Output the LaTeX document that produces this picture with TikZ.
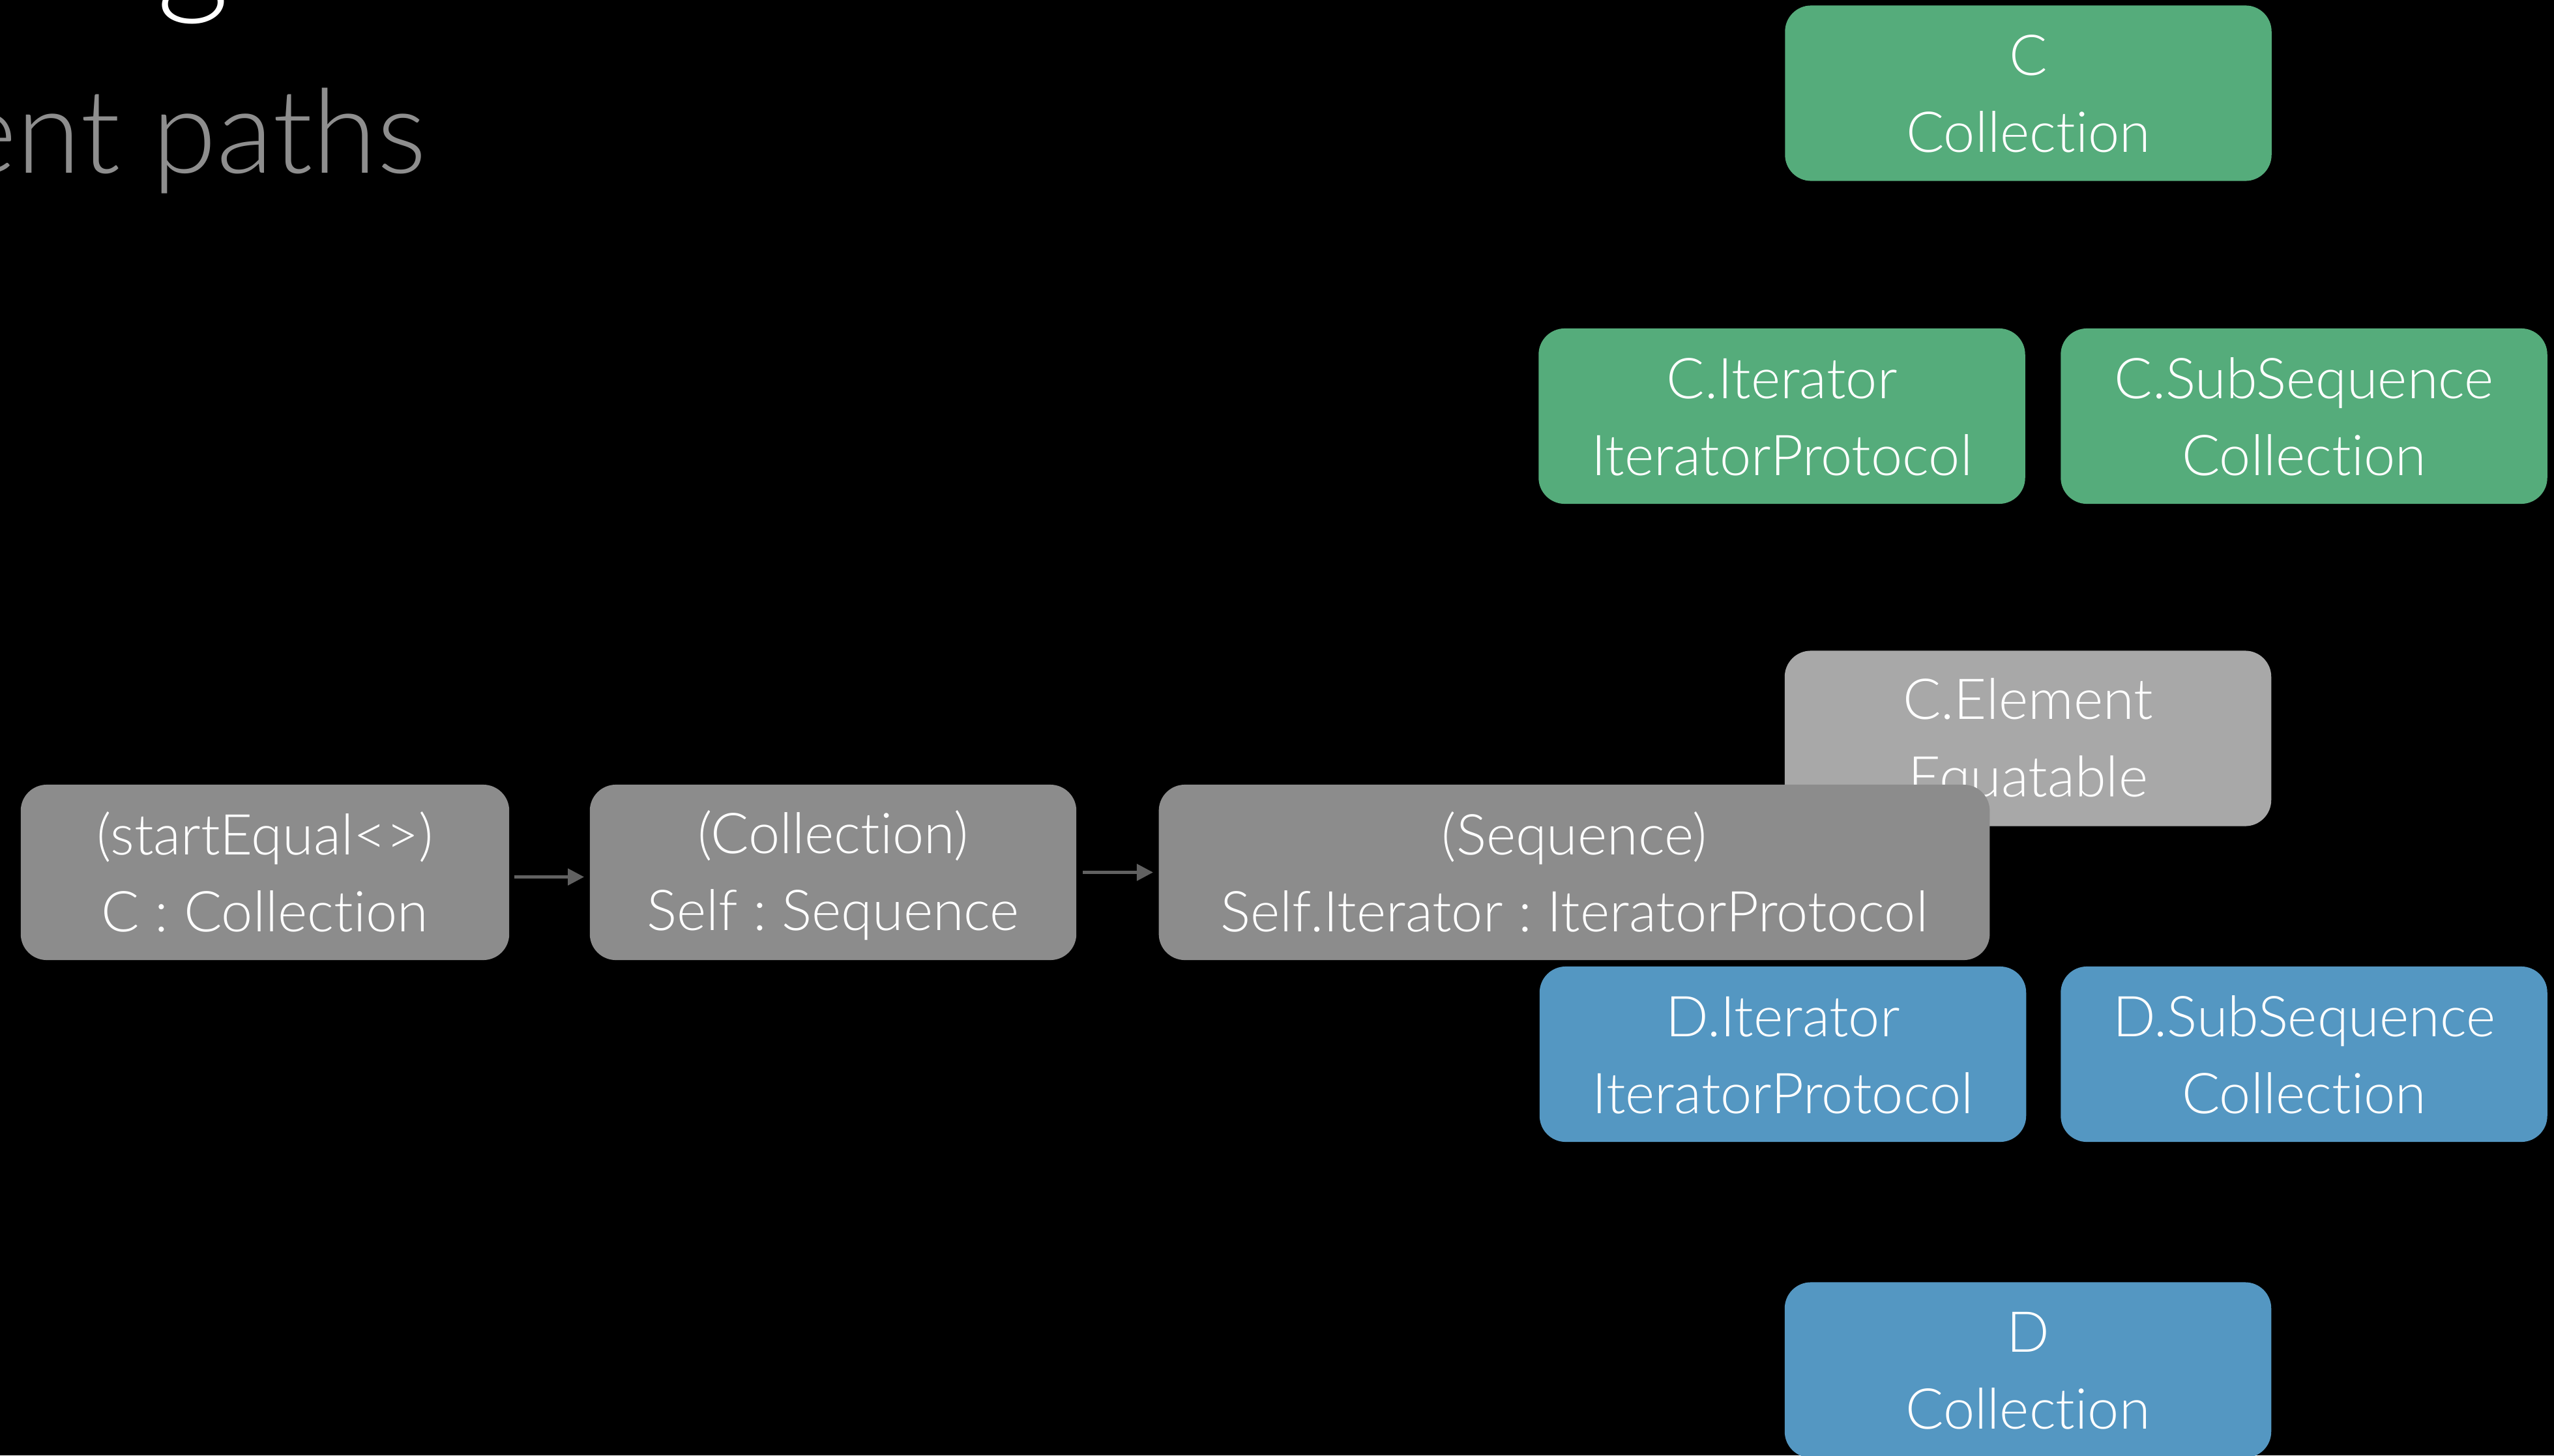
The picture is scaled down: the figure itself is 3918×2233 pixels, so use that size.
\documentclass[tikz,border=0pt]{standalone}
\usepackage{fontspec}
\setmainfont{Lato Light}[Ligatures=NoCommon]
\usetikzlibrary{arrows.meta}
\frenchspacing

\definecolor{boxgreen}{RGB}{85,172,123}
\definecolor{boxblue}{RGB}{84,151,194}
\definecolor{boxgray}{RGB}{140,140,140}
\definecolor{boxlight}{RGB}{168,168,168}
\definecolor{linkgray}{RGB}{97,97,97}
\definecolor{subgray}{RGB}{142,142,142}

% two centred lines with fixed strut height and depth,
% the top strut a little taller so the text sits slightly low
\newcommand\twoline[2]{%
  \raisebox{0pt}[\dimexpr\fontcharht\font`\(+2.6pt\relax][0pt]{}#1\\%
  \vphantom{(}#2}

\tikzset{
  box/.style={rounded corners=0.4cm, minimum width=7.46cm, minimum height=2.69cm,
    inner sep=0pt, align=center, text=white,
    font=\fontsize{24.6}{33.6}\selectfont},
  greenbox/.style={box, fill=boxgreen},
  bluebox/.style={box, fill=boxblue},
  graybox/.style={box, fill=boxgray},
  lightbox/.style={box, fill=boxlight},
  link/.style={draw=linkgray, line width=1.42pt,
    -{Triangle[length=7.1pt, width=7.1pt]}}
}

\begin{document}
\begin{tikzpicture}[x=0.01cm, y=-0.01cm]
  % page
  \fill[black] (0,0) rectangle (3918,2233);
  \useasboundingbox (0,0) rectangle (3918,2233);

  % heading lines, running off the page
  \node[anchor=south west, inner sep=0pt, text=white,
        font=\fontsize{62}{70}\selectfont] (head) at (240,38) {g};
  \node[anchor=base east, inner sep=0pt, text=subgray,
        font=\fontsize{51}{60}\selectfont] (sub) at (655,265) {ent paths};

  % C side
  \node[greenbox] (c)    at (3111.5,143)   {\twoline{C}{Collection}};
  \node[greenbox] (cit)  at (2733.5,638.5) {\twoline{C.Iterator}{IteratorProtocol}};
  \node[greenbox] (csub) at (3534.5,638.5) {\twoline{C.SubSequence}{Collection}};
  \node[lightbox] (cel)  at (3111,1133)    {\twoline{C.Element}{Equatable}};

  % requirement path
  \node[graybox, minimum width=7.49cm] (n1) at (406.5,1338.5)
    {\twoline{(startEqual<>)}{C : Collection}};
  \node[graybox] (n2) at (1278,1338.5)
    {\twoline{(Collection)}{Self : Sequence}};
  \node[graybox, minimum width=12.74cm] (n3) at (2415,1338.5)
    {\twoline{(Sequence)}{Self.Iterator : IteratorProtocol}};

  % D side
  \node[bluebox] (dit)  at (2735,1617.5)   {\twoline{D.Iterator}{IteratorProtocol}};
  \node[bluebox] (dsub) at (3534.5,1617.5) {\twoline{D.SubSequence}{Collection}};
  \node[bluebox] (d)    at (3111,2102)     {\twoline{D}{Collection}};

  % connectors
  \draw[link, shorten <=0.07cm, shorten >=0.08cm]
    ([yshift=-0.07cm]n1.east) -- ([yshift=-0.07cm]n2.west);
  \draw[link, shorten <=0.09cm, shorten >=0.08cm]
    (n2.east) -- (n3.west);
\end{tikzpicture}
\end{document}
